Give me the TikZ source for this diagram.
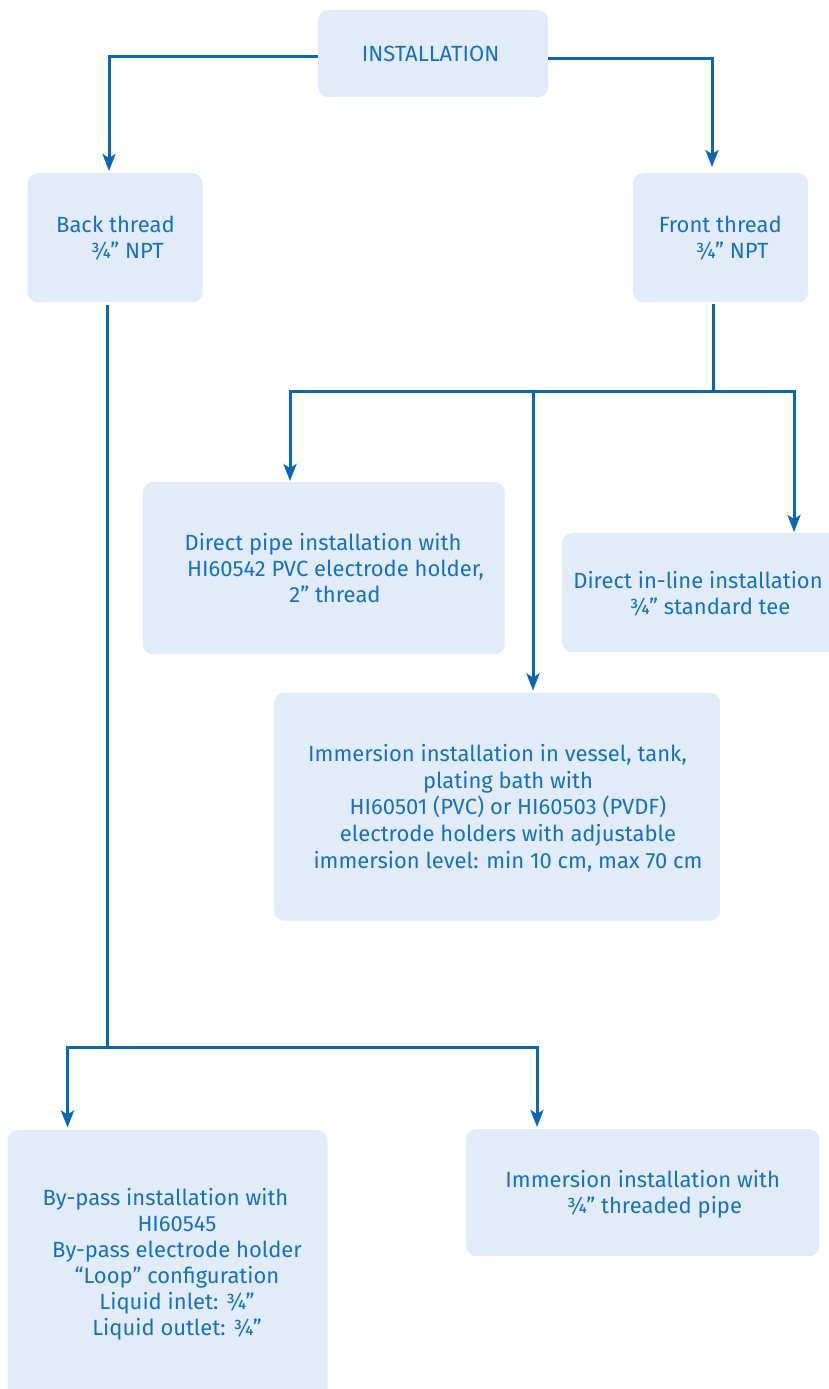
\documentclass[tikz,border=0pt]{standalone}
\usepackage{fontspec}
\setmainfont{Fira Sans}
\usetikzlibrary{arrows.meta}
\definecolor{lineblue}{HTML}{0A68B2}
\definecolor{txtblue}{HTML}{1872BA}
\definecolor{boxfill}{HTML}{E1ECF8}
\newcommand{\tline}[2]{\makebox[0pt]{\hspace*{#1}#2}}
\tikzset{
  box/.style={fill=boxfill, draw=none, rounded corners=10pt, anchor=north west, inner sep=0pt},
  txt/.style={text=txtblue, align=center, inner sep=0pt, font=\fontsize{22}{26}\selectfont},
  ln/.style={draw=lineblue, line width=3pt},
  arr/.style={draw=lineblue, line width=3pt, -{Stealth[length=17pt,width=13pt,inset=4pt]}}
}
\begin{document}
\begin{tikzpicture}[x=1pt,y=-1pt]
\useasboundingbox (0,0) rectangle (828,1389);
% boxes
\node[box, minimum width=230pt, minimum height=87pt] (inst) at (318,10) {};
\node[box, minimum width=175pt, minimum height=129pt] (back) at (27.5,173) {};
\node[box, minimum width=175pt, minimum height=129pt] (front) at (633,173) {};
\node[box, minimum width=362pt, minimum height=172pt] (pipe) at (142.5,482) {};
\node[box, minimum width=290pt, minimum height=119pt] (inline) at (562,533) {};
\node[box, minimum width=446pt, minimum height=228pt] (big) at (274,692.5) {};
\node[box, minimum width=320pt, minimum height=275pt] (bypass) at (7.5,1130) {};
\node[box, minimum width=353pt, minimum height=127pt] (imm) at (466,1129) {};
% texts
\node[txt] (t0) at (430.6,54) {INSTALLATION};
\node[txt] (t1) at (115.4,238.2) {Back thread\\ \tline{23.8pt}{¾” NPT}};
\node[txt] (t2) at (720.3,238.2) {Front thread\\ \tline{23.4pt}{¾” NPT}};
\node[txt] (t3) at (323,568) {Direct pipe installation with\\ \tline{25pt}{HI60542 PVC electrode holder,}\\ \tline{24pt}{2” thread}};
\node[txt] (t4) at (698,593.5) {Direct in-line installation\\ \tline{24pt}{¾” standard tee}};
\node[txt, font=\fontsize{22}{26.7}\selectfont] (t5) at (508,808) {\tline{-21pt}{Immersion installation in vessel, tank,}\\ plating bath with\\ HI60501 (PVC) or HI60503 (PVDF)\\ electrode holders with adjustable\\ immersion level: min 10 cm, max 70 cm};
\node[txt] (t6) at (177,1264.5) {\tline{-23pt}{By-pass installation with}\\ HI60545\\ By-pass electrode holder\\ “Loop” configuration\\ Liquid inlet: ¾”\\ Liquid outlet: ¾”};
\node[txt] (t7) at (642.7,1194) {Immersion installation with\\ \tline{23.6pt}{¾” threaded pipe}};
% connectors
\coordinate (a1) at (109,57);
\draw[arr, shorten >=2pt] (inst.west |- a1) -- (a1) -- (a1 |- back.north);
\coordinate (a2) at (712,59);
\draw[arr, shorten >=6pt] (inst.east |- a2) -- (a2) -- (a2 |- front.north);
\coordinate (f0) at (713,391);
\coordinate (fL) at (290,391);
\coordinate (fR) at (794,391);
\coordinate (fM) at (533,391);
\draw[ln] ([yshift=-2pt]f0 |- front.south) -- (f0);
\draw[arr, shorten >=1pt] (f0) -- (fL) -- (fL |- pipe.north);
\draw[arr, shorten >=1pt] (f0) -- (fR) -- (fR |- inline.north);
\draw[arr, shorten >=2pt] (fM) -- (fM |- big.north);
\coordinate (b0) at (107,1047);
\coordinate (bL) at (67.5,1047);
\coordinate (bR) at (537,1047);
\draw[ln] ([yshift=-3pt]b0 |- back.south) -- (b0);
\draw[arr, shorten >=2.5pt] (b0) -- (bL) -- (bL |- bypass.north);
\draw[arr, shorten >=2pt] (b0) -- (bR) -- (bR |- imm.north);
\end{tikzpicture}
\end{document}
